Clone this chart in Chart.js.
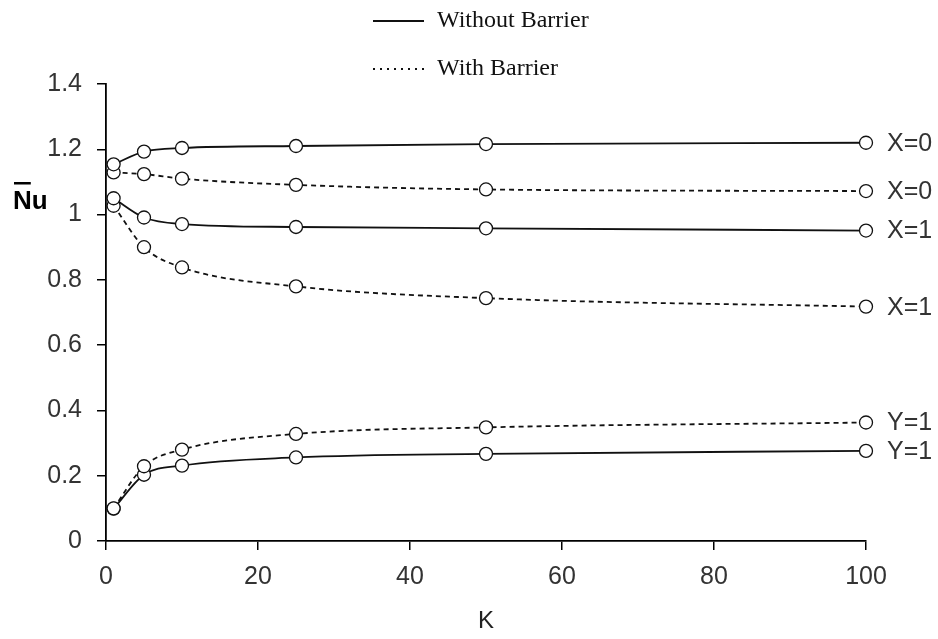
<!DOCTYPE html>
<html>
<head>
<meta charset="utf-8">
<script src="https://cdn.jsdelivr.net/npm/chart.js@4.4.1/dist/chart.umd.min.js"></script>
<style>
  html, body { margin: 0; padding: 0; background: #fff; }
  #wrap { width: 938px; height: 639px; position: relative; }
</style>
</head>
<body>
<div id="wrap"><canvas id="c" width="938" height="639"></canvas></div>
<script>
// ---- data ----
const kValues = [1, 5, 10, 25, 50, 100];
const noBarrierX0 = [1.154, 1.193, 1.204, 1.210, 1.216, 1.220];
const barrierX0   = [1.129, 1.124, 1.110, 1.091, 1.077, 1.072];
const noBarrierX1 = [1.050, 0.991, 0.971, 0.962, 0.958, 0.951];
const barrierX1   = [1.027, 0.900, 0.838, 0.780, 0.744, 0.718];
const barrierY1   = [0.100, 0.229, 0.280, 0.328, 0.348, 0.363];
const noBarrierY1 = [0.099, 0.203, 0.231, 0.256, 0.267, 0.276];
const endLabels = ['X=0', 'X=0', 'X=1', 'X=1', 'Y=1', 'Y=1'];
const xTicks = [0, 20, 40, 60, 80, 100];
const yTicks = [0, 0.2, 0.4, 0.6, 0.8, 1, 1.2, 1.4];
const legendLabels = ['Without Barrier', 'With Barrier'];
const xTitle = 'K';
const yTitle = 'Nu';

const seriesList = [noBarrierX0, barrierX0, noBarrierX1, barrierX1, barrierY1, noBarrierY1];
const dashedFlags = [false, true, false, true, true, false];

const SANS = '"Liberation Sans", Arial, sans-serif';

const datasets = seriesList.map((s, i) => ({
  data: s.map((v, j) => ({ x: kValues[j], y: v })),
  borderColor: '#111',
  borderWidth: 1.8,
  borderDash: dashedFlags[i] ? [5, 4] : [],
  pointRadius: 6.5,
  pointHoverRadius: 6.5,
  pointBackgroundColor: '#fff',
  pointBorderColor: '#111',
  pointBorderWidth: 1.3,
  cubicInterpolationMode: 'monotone',
  fill: false,
  clip: false
}));

const extras = {
  id: 'extras',
  afterDatasetsDraw(chart) {
    const ctx = chart.ctx;
    ctx.save();
    // end labels
    ctx.fillStyle = '#333';
    ctx.font = '25px ' + SANS;
    ctx.textBaseline = 'middle';
    ctx.textAlign = 'left';
    chart.data.datasets.forEach((ds, i) => {
      const meta = chart.getDatasetMeta(i);
      const p = meta.data[meta.data.length - 1];
      ctx.fillText(endLabels[i], p.x + 21, p.y + 1);
    });
    // y title with overline
    ctx.font = 'bold 26px ' + SANS;
    ctx.fillStyle = '#000';
    const yx = 13, yy = 209;
    ctx.textBaseline = 'alphabetic';
    ctx.fillText(yTitle, yx, yy);
    const nW = ctx.measureText('N').width;
    ctx.fillRect(yx + 1, yy - 27, nW - 2, 2.5);
    // legend
    ctx.font = '24px "Liberation Serif", "Times New Roman", serif';
    ctx.fillStyle = '#111';
    ctx.textBaseline = 'middle';
    const lx = 373, lw = 51;
    const rows = [21, 69];
    ctx.strokeStyle = '#111';
    rows.forEach((ry, i) => {
      ctx.beginPath();
      ctx.lineWidth = i === 1 ? 2 : 2;
      ctx.setLineDash(i === 1 ? [2, 5] : []);
      ctx.moveTo(lx, ry);
      ctx.lineTo(lx + lw, ry);
      ctx.stroke();
      ctx.fillText(legendLabels[i], lx + lw + 13, ry);
    });
    ctx.restore();
  }
};

new Chart(document.getElementById('c'), {
  type: 'line',
  data: { datasets },
  options: {
    responsive: false,
    animation: false,
    events: [],
    layout: { padding: { top: 84, right: 72, left: 0, bottom: 0 } },
    plugins: { legend: { display: false }, tooltip: { enabled: false } },
    scales: {
      x: {
        type: 'linear',
        min: 0, max: 100,
        afterBuildTicks(scale) { scale.ticks = xTicks.map(v => ({ value: v })); },
        afterFit(scale) { scale.height = 98; },
        grid: { display: true, drawOnChartArea: false, drawTicks: true, tickLength: 9, color: '#000', lineWidth: 1.5 },
        border: { display: true, color: '#000', width: 1.8 },
        ticks: { color: '#333', font: { family: SANS, size: 25 }, padding: 12, maxRotation: 0 },
        title: { display: true, text: xTitle, color: '#222', font: { family: SANS, size: 24 }, padding: { top: 0, bottom: 3 } }
      },
      y: {
        type: 'linear',
        min: 0, max: 1.4,
        afterBuildTicks(scale) { scale.ticks = yTicks.map(v => ({ value: v })); },
        afterFit(scale) { scale.width = 106; },
        grid: { display: true, drawOnChartArea: false, drawTicks: true, tickLength: 9, color: '#000', lineWidth: 1.5 },
        border: { display: true, color: '#000', width: 1.8 },
        ticks: { color: '#333', font: { family: SANS, size: 25 }, padding: 15,
          callback: v => String(Math.round(v * 10) / 10) }
      }
    }
  },
  plugins: [extras]
});
</script>
</body>
</html>
